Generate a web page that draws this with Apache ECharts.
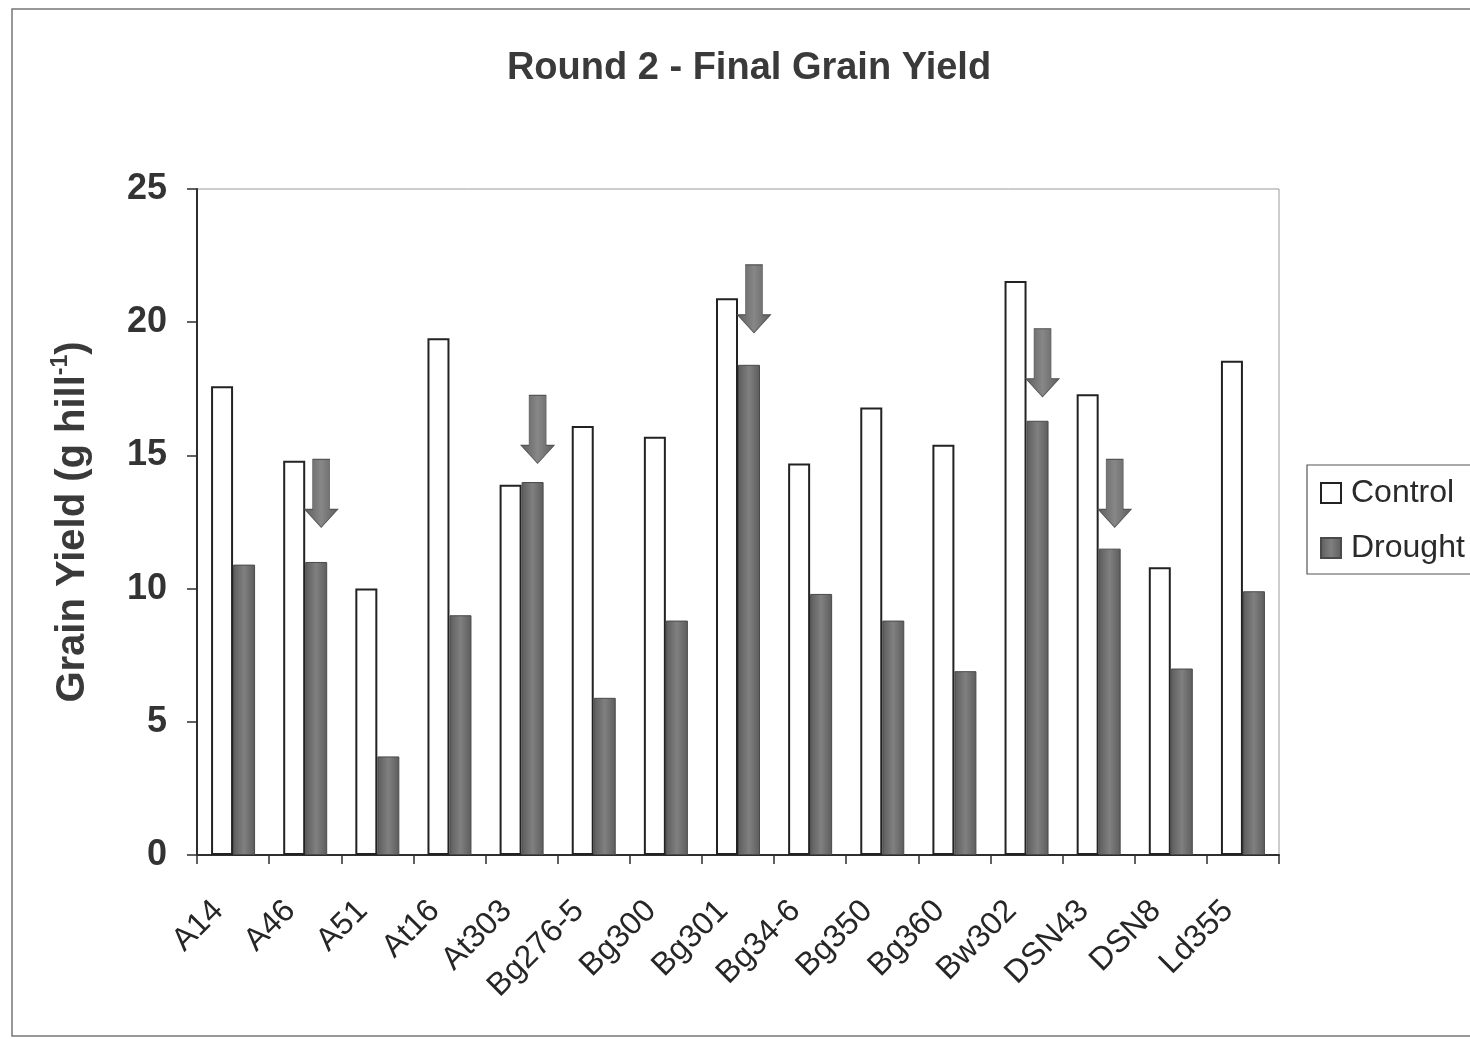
<!DOCTYPE html>
<html>
<head>
<meta charset="utf-8">
<script src="https://cdn.jsdelivr.net/npm/echarts@6/dist/echarts.min.js"></script>
<style>
html,body{margin:0;padding:0;background:#fff;}
#c{width:1470px;height:1039px;}
</style>
</head>
<body>
<div id="c"></div>
<script>
// ---- data ----
const categories = ['A14','A46','A51','At16','At303','Bg276-5','Bg300','Bg301','Bg34-6','Bg350','Bg360','Bw302','DSN43','DSN8','Ld355'];
const controlValues = [17.6, 14.8, 10.0, 19.4, 13.9, 16.1, 15.7, 20.9, 14.7, 16.8, 15.4, 21.55, 17.3, 10.8, 18.55];
const droughtValues = [10.9, 11.0, 3.7, 9.0, 14.0, 5.9, 8.8, 18.4, 9.8, 8.8, 6.9, 16.3, 11.5, 7.0, 9.9];
const yTicks = [0, 5, 10, 15, 20, 25];
// arrows: category and the value where the arrow tip points
const arrowCategories = ['A46','At303','Bg301','Bw302','DSN43'];
const arrowTips = [12.3, 14.7, 19.6, 17.2, 12.3];

const chart = echarts.init(document.getElementById('c'), null, {renderer:'canvas'});
const dark = '#2e2e2e';
const greyFill = {
  type:'linear', x:0, y:0, x2:1, y2:0,
  colorStops:[{offset:0,color:'#5c5c5c'},{offset:0.5,color:'#808080'},{offset:1,color:'#5c5c5c'}]
};
const arrowFill = {
  type:'linear', x:0, y:0, x2:1, y2:0,
  colorStops:[{offset:0,color:'#5e5e5e'},{offset:0.5,color:'#878787'},{offset:1,color:'#5e5e5e'}]
};
const arrowPath = 'path://M8,0 L25,0 L25,50 L33,50 L16.5,68 L0,50 L8,50 Z';

const option = {
  backgroundColor:'#fff',
  animation:false,
  textStyle:{fontFamily:'Liberation Sans, Arial, sans-serif'},
  graphic:[{
    type:'rect', silent:true, z:-10,
    shape:{x:12, y:9, width:1520, height:1027},
    style:{fill:'none', stroke:'#777', lineWidth:1.5}
  }],
  title:{
    text:'Round 2 - Final Grain Yield',
    left:744, top:45, textAlign:'center',
    textStyle:{fontSize:38, fontWeight:'bold', color:'#3a3a3a', fontFamily:'Liberation Sans, Arial, sans-serif'}
  },
  legend:{
    orient:'vertical',
    left:1307, top:465,
    padding:[12,30,10,13],
    itemGap:23,
    itemWidth:20, itemHeight:20,
    icon:'rect',
    borderColor:'#555', borderWidth:1.2,
    textStyle:{fontSize:32, color:'#2a2a2a', padding:[0,0,0,5]},
    data:['Control','Drought']
  },
  grid:{
    left:197, top:189, right:191, bottom:184,
    show:true, borderColor:'#9a9a9a', borderWidth:1, backgroundColor:'#fff'
  },
  xAxis:{
    type:'category',
    data:categories,
    axisLine:{lineStyle:{color:dark, width:2}},
    axisTick:{show:true, length:9, lineStyle:{color:dark, width:1.5}},
    axisLabel:{rotate:45, fontSize:32, color:'#262626', margin:36, padding:[0,21,0,0], interval:0}
  },
  yAxis:{
    type:'value', min:yTicks[0], max:yTicks[yTicks.length-1], interval:5,
    name:'{a|Grain Yield (g hill}{s|-1}{a|)}',
    nameLocation:'middle', nameGap:104, nameRotate:90,
    nameTextStyle:{
      rich:{
        a:{fontSize:40, fontWeight:'bold', color:'#3a3a3a', lineHeight:44, verticalAlign:'bottom'},
        s:{fontSize:23, fontWeight:'bold', color:'#3a3a3a', lineHeight:44, verticalAlign:'top', padding:[0,0,16,0]}
      }
    },
    axisLine:{show:true, lineStyle:{color:dark, width:2}},
    axisTick:{show:true, length:10, lineStyle:{color:dark, width:1.5}},
    splitLine:{show:false},
    axisLabel:{fontSize:36, fontWeight:'bold', color:'#333', margin:30}
  },
  series:[
    {
      name:'Control', type:'bar',
      data:controlValues,
      barGap:'0%', barCategoryGap:'39%',
      itemStyle:{color:'#ffffff', borderColor:'#222', borderWidth:2}
    },
    {
      name:'Drought', type:'bar',
      data:droughtValues,
      itemStyle:{color:greyFill, borderColor:'#4a4a4a', borderWidth:1},
      markPoint:{
        symbol:arrowPath,
        symbolSize:[33,68],
        symbolOffset:[5,'-50%'],
        symbolKeepAspect:false,
        label:{show:false},
        itemStyle:{color:arrowFill, borderColor:'#555', borderWidth:0.8},
        data:arrowCategories.map((c,i)=>({coord:[c, arrowTips[i]]}))
      }
    }
  ]
};
chart.setOption(option);
</script>
</body>
</html>
